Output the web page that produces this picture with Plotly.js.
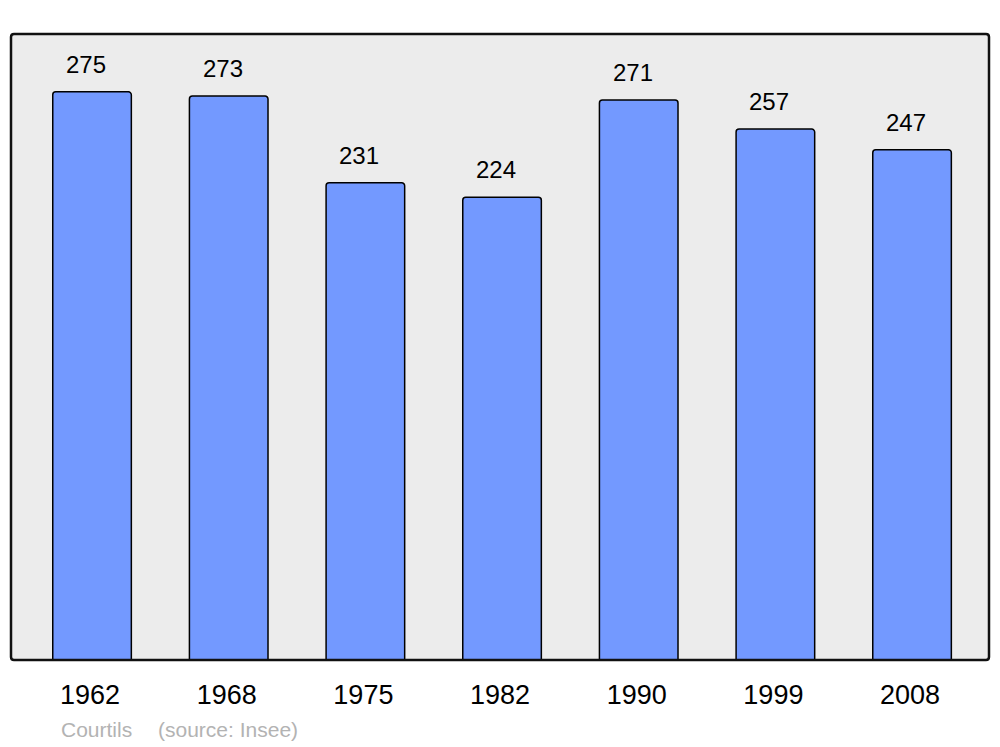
<!DOCTYPE html>
<html><head><meta charset="utf-8">
<script src="https://cdn.plot.ly/plotly-3.0.1.min.js"></script>
<style>html,body{margin:0;padding:0;background:#fff}#c{width:1000px;height:747px}</style>
</head><body><div id="c"></div>
<script>
const years = ['1962','1968','1975','1982','1990','1999','2008'];
const population = [275, 273, 231, 224, 271, 257, 247];
const commune = 'Courtils';
const source = '(source: Insee)';

const W = 978, H = 626, r = 3;
const rx = r / W, ry = r / H;
const framePath = `M ${rx},0 L ${1-rx},0 Q 1,0 1,${ry} L 1,${1-ry} Q 1,1 ${1-rx},1 L ${rx},1 Q 0,1 0,${1-ry} L 0,${ry} Q 0,0 ${rx},0 Z`;

const annotations = years.map((y, i) => ({
  x: i, y: population[i], xref: 'x', yref: 'y',
  text: String(population[i]), showarrow: false,
  yanchor: 'bottom', xanchor: 'center', xshift: -6, yshift: 12,
  font: {family: 'Liberation Sans, Arial, sans-serif', size: 24, color: '#000'}
}));
annotations.push({
  xref: 'paper', yref: 'paper', x: (59 - 11) / W, y: -(729 - 660) / H,
  xanchor: 'left', yanchor: 'middle', showarrow: false, text: commune,
  font: {family: 'Liberation Sans, Arial, sans-serif', size: 21, color: '#b3b3b3'}
});
annotations.push({
  xref: 'paper', yref: 'paper', x: (156 - 11) / W, y: -(729 - 660) / H,
  xanchor: 'left', yanchor: 'middle', showarrow: false, text: source,
  font: {family: 'Liberation Sans, Arial, sans-serif', size: 21, color: '#b3b3b3'}
});

Plotly.newPlot('c', [{
  type: 'bar', x: years, y: population,
  width: 0.575,
  marker: {color: '#7399ff', line: {color: '#000', width: 1.5}, cornerradius: 3},
  hoverinfo: 'none'
}], {
  width: 1000, height: 747,
  margin: {l: 11, r: 11, t: 34, b: 87, pad: 0},
  paper_bgcolor: '#fff', plot_bgcolor: '#ececec',
  showlegend: false,
  xaxis: {
    type: 'category', range: [-0.593, 6.563],
    showgrid: false, zeroline: false, showline: false,
    ticks: 'outside', ticklen: 11, tickcolor: 'rgba(0,0,0,0)',
    ticklabelshift: -2,
    tickfont: {family: 'Liberation Sans, Arial, sans-serif', size: 27, color: '#000'}
  },
  yaxis: {
    range: [0, 303], showgrid: false, zeroline: false, showline: false,
    showticklabels: false, ticks: ''
  },
  shapes: [{
    type: 'path', xref: 'paper', yref: 'paper', path: framePath,
    line: {color: '#111', width: 2.5}, fillcolor: 'rgba(0,0,0,0)', layer: 'above'
  }],
  annotations: annotations
}, {displayModeBar: false, staticPlot: true});
</script>
</body></html>
